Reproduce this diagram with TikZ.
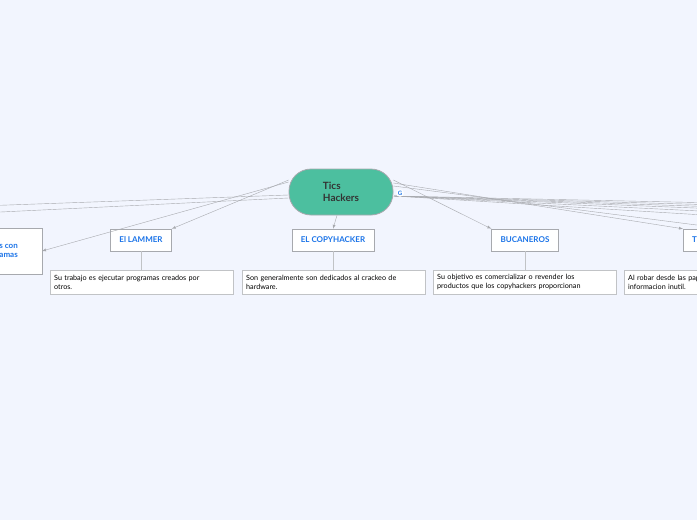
\documentclass[tikz,border=0pt]{standalone}
\usepackage{fontspec}
\setmainfont{Lato}
\usetikzlibrary{positioning}
\definecolor{bgc}{HTML}{F2F5FE}
\definecolor{teal}{HTML}{4CBF9F}
\definecolor{blu}{HTML}{1A73E8}
\definecolor{lin}{HTML}{A7A9AE}
\begin{document}
\begin{tikzpicture}[x=1pt,y=-1pt,
    topic/.style={draw=lin,fill=white,minimum height=22pt,inner xsep=9pt,font=\fontsize{8}{9}\selectfont\bfseries,text=blu},
    desc/.style={draw=lin!70,fill=white,minimum height=24pt,text width=175pt,inner xsep=4pt,align=left,font=\fontsize{7.2}{9}\selectfont},
    conn/.style={draw=lin,->,>=latex,thin}]
    \fill[bgc] (0,0) rectangle (697,520);
    \useasboundingbox (0,0) rectangle (697,520);
    \clip (0,0) rectangle (697,520);

    \node[fill=teal,draw=lin,thick,rounded corners=22pt,minimum width=104pt,minimum height=46pt,align=left,
          font=\fontsize{10}{12}\selectfont\bfseries,text=black!80] (root) at (341,192) {Tics\\Hackers};

    \node[topic,minimum height=46pt,align=right,anchor=east,inner xsep=24pt] (crack) at (42,251) {Crackers con\\programas};
    \node[topic] (lammer) at (141,240) {El LAMMER};
    \node[topic] (copy) at (333,240) {EL COPYHACKER};
    \node[topic] (buca) at (525,240) {BUCANEROS};
    \node[topic,anchor=west] (trash) at (683,240) {TRASHING};

    \node[desc,anchor=north west] (d1) at (50,270) {Su trabajo  es ejecutar programas creados por\\otros.};
    \node[desc,anchor=north west] (d2) at (242,270) {Son generalmente son dedicados al crackeo de\\hardware.};
    \node[desc,anchor=north west] (d3) at (433,270) {Su objetivo es comercializar o revender los\\productos que los copyhackers proporcionan};
    \node[desc,anchor=north west] (d4) at (624,270) {Al robar desde las papeleras obtienen\\informacion inutil.};

    \coordinate (l1) at (-20,206);
    \coordinate (l2) at (-20,213);
    \coordinate (rs) at (394,196);
    \draw[lin] (root.west) ++(0,3) -- (l1);
    \draw[lin] (root.west) ++(0,6) -- (l2);
    \draw[conn] ([yshift=10pt]root.west) -- (crack.east);
    \draw[conn] ([yshift=12pt]root.west) -- (lammer.north east);
    \draw[conn] (root.south) ++(-4,0) -- (copy.north);
    \draw[conn] ([yshift=12pt]root.east) -- (buca.north west);
    \draw[conn] ([yshift=9pt]root.east) -- (trash.north west);
    \foreach \y in {203,205,207,209,212,216}{
      \draw[lin] (rs) -- (720,\y);
    }
    \draw[lin] ([yshift=6pt]root.east) -- (720,228);

    \draw[lin!70] (lammer.south) -- (lammer.south |- d1.north);
    \draw[lin!70] (copy.south) -- (copy.south |- d2.north);
    \draw[lin!70] (buca.south) -- (buca.south |- d3.north);

    \node[circle,fill=white,inner sep=0.5pt,font=\fontsize{6}{6}\selectfont\bfseries,text=blu] (gicon) at (400,193) {G};
\end{tikzpicture}
\end{document}
